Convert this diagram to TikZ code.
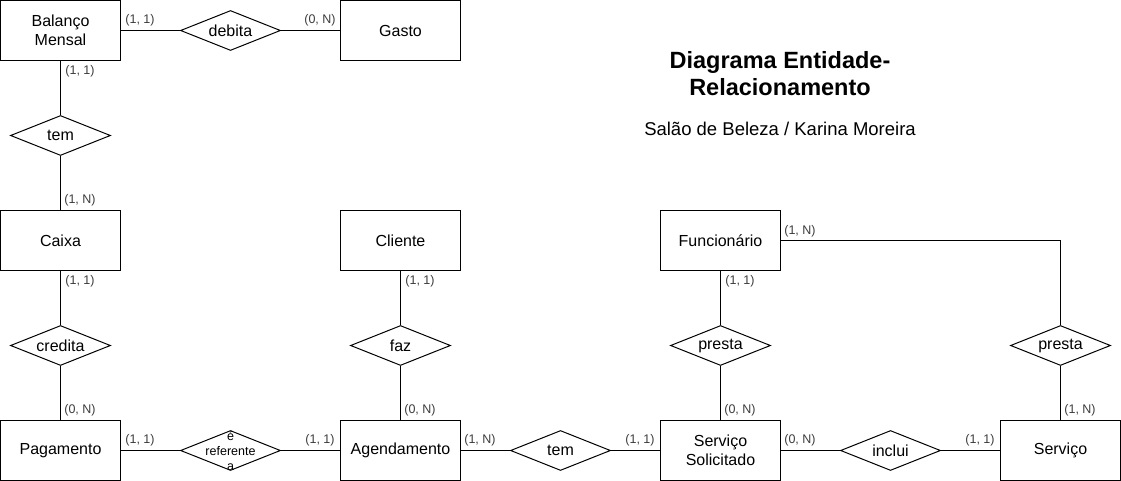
\documentclass[tikz,border=0pt]{standalone}
\usepackage{fontspec}
\setmainfont{Liberation Sans}
\usetikzlibrary{shapes.geometric}
\definecolor{cardc}{RGB}{60,60,60}
\begin{document}
\begin{tikzpicture}[x=1pt,y=-1pt,
  ent/.style={draw=black,line width=1pt,minimum width=120pt,minimum height=60pt,inner sep=0pt,align=center,font=\fontsize{16}{19}\selectfont},
  rel/.style={draw=black,line width=1pt,shape=diamond,minimum width=100pt,minimum height=40pt,inner sep=0pt,aspect=2.5},
  reltext/.style={align=center,font=\fontsize{16}{19}\selectfont,inner sep=0pt},
  reltextsm/.style={align=center,font=\fontsize{12.5}{15}\selectfont,inner sep=0pt},
  card/.style={font=\fontsize{12.5}{14}\selectfont,text=cardc,inner sep=0pt},
  conn/.style={line width=1pt,draw=black}]
\useasboundingbox (0,0) rectangle (1121,481);
% entities
\node[ent] (bal) at (60.5,30.5) {Balanço\\Mensal};
\node[ent] (gas) at (400.5,30.5) {Gasto};
\node[ent] (cai) at (60.5,240.5) {Caixa};
\node[ent] (cli) at (400.5,240.5) {Cliente};
\node[ent] (fun) at (720.5,240.5) {Funcionário};
\node[ent] (pag) at (60.5,450.5) {Pagamento};
\node[ent] (age) at (400.5,450.5) {Agendamento};
\node[ent] (sso) at (720.5,450.5) {Serviço\\Solicitado};
\node[ent] (ser) at (1060.5,450.5) {Serviço};
% relationships
\node[rel] (deb) at (230.5,30.5) {};
\node[rel] (tem1) at (60.5,135.5) {};
\node[rel] (cre) at (60.5,345.5) {};
\node[rel] (faz) at (400.5,345.5) {};
\node[rel] (pre1) at (720.5,345.5) {};
\node[rel] (pre2) at (1060.5,345.5) {};
\node[rel] (ref) at (230.5,450.5) {};
\node[rel] (tem2) at (560.5,450.5) {};
\node[rel] (inc) at (890.5,450.5) {};
\node[reltext] (tdeb) at (deb) {debita};
\node[reltext] (ttem1) at (tem1) {tem};
\node[reltext] (tcre) at (cre) {credita};
\node[reltext] (tfaz) at (faz) {faz};
\node[reltext] (tpre1) at (pre1) {presta};
\node[reltext] (tpre2) at (pre2) {presta};
\node[reltextsm] (tref) at (ref) {é\\referente\\a};
\node[reltext] (ttem2) at (tem2) {tem};
\node[reltext] (tinc) at (inc) {inclui};
% connectors
\draw[conn] (bal.east) -- (deb.west);
\draw[conn] (deb.east) -- (gas.west);
\draw[conn] (bal.south) -- (tem1.north);
\draw[conn] (tem1.south) -- (cai.north);
\draw[conn] (cai.south) -- (cre.north);
\draw[conn] (cre.south) -- (pag.north);
\draw[conn] (pag.east) -- (ref.west);
\draw[conn] (ref.east) -- (age.west);
\draw[conn] (cli.south) -- (faz.north);
\draw[conn] (faz.south) -- (age.north);
\draw[conn] (age.east) -- (tem2.west);
\draw[conn] (tem2.east) -- (sso.west);
\draw[conn] (fun.south) -- (pre1.north);
\draw[conn] (pre1.south) -- (sso.north);
\draw[conn] (sso.east) -- (inc.west);
\draw[conn] (inc.east) -- (ser.west);
\draw[conn] (fun.east) -| (pre2.north);
\draw[conn] (pre2.south) -- (ser.north);
% cardinalities
\node[card] (c1) at (140,20) {(1, 1)};
\node[card] (c2) at (320,20) {(0, N)};
\node[card] (c3) at (80,71) {(1, 1)};
\node[card] (c4) at (80,200) {(1, N)};
\node[card] (c5) at (80,281) {(1, 1)};
\node[card] (c6) at (80,410) {(0, N)};
\node[card] (c7) at (140,440) {(1, 1)};
\node[card] (c8) at (320,440) {(1, 1)};
\node[card] (c9) at (420,281) {(1, 1)};
\node[card] (c10) at (420,410) {(0, N)};
\node[card] (c11) at (480,440) {(1, N)};
\node[card] (c12) at (640,440) {(1, 1)};
\node[card] (c13) at (740,281) {(1, 1)};
\node[card] (c14) at (740,410) {(0, N)};
\node[card] (c15) at (800,440) {(0, N)};
\node[card] (c16) at (980,440) {(1, 1)};
\node[card] (c17) at (800,231) {(1, N)};
\node[card] (c18) at (1080,410) {(1, N)};
% title
\node[font=\fontsize{23.5}{27}\selectfont\bfseries,align=center,inner sep=0pt] (title) at (780,73.5) {Diagrama Entidade-\\Relacionamento};
\node[font=\fontsize{18.5}{21}\selectfont,inner sep=0pt] (sub) at (780,129) {Salão de Beleza / Karina Moreira};
\end{tikzpicture}
\end{document}
